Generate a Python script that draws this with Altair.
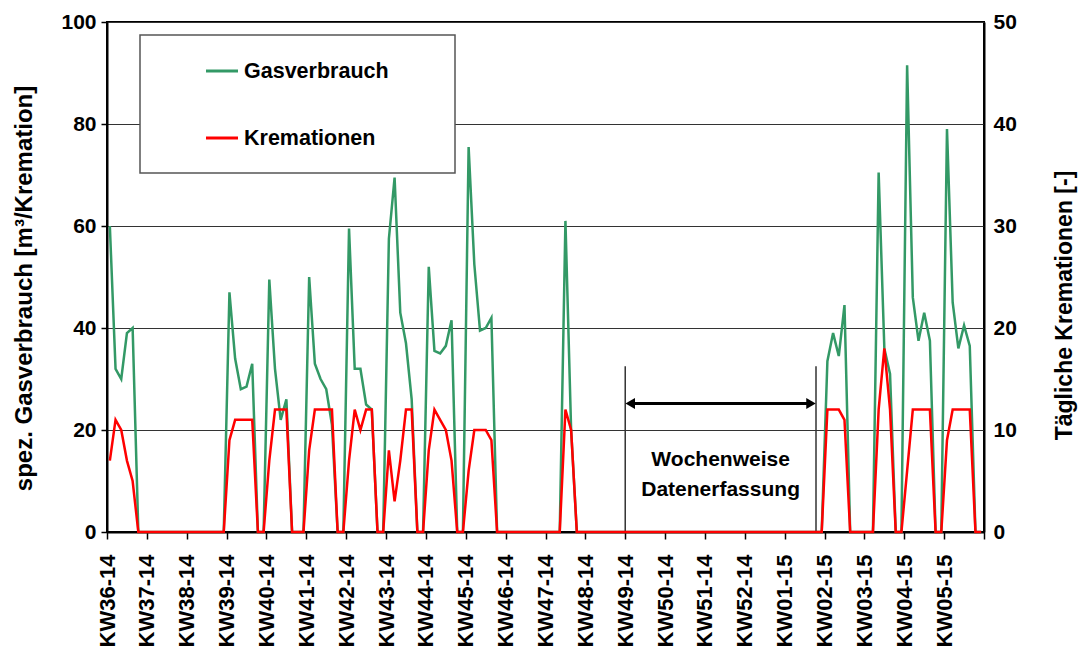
import altair as alt
import numpy as np
import pandas as pd

# ---------------- data ----------------
weeks = ["KW36-14", "KW37-14", "KW38-14", "KW39-14", "KW40-14", "KW41-14",
         "KW42-14", "KW43-14", "KW44-14", "KW45-14", "KW46-14", "KW47-14",
         "KW48-14", "KW49-14", "KW50-14", "KW51-14", "KW52-14", "KW01-15",
         "KW02-15", "KW03-15", "KW04-15", "KW05-15"]

# spez. Gasverbrauch [m3/Kremation], one value per day, week by week
gas_kw36 = [60, 32, 30, 39, 40, 0, 0]
gas_kw37 = [0, 0, 0, 0, 0, 0, 0]
gas_kw38 = [0, 0, 0, 0, 0, 0, 0]
gas_kw39 = [47, 34, 28, 28.5, 33, 0, 0]
gas_kw40 = [49.5, 32, 22, 26, 0, 0, 0]
gas_kw41 = [50, 33, 30, 28, 21, 0, 0]
gas_kw42 = [59.5, 32, 32, 25, 24, 0, 0]
gas_kw43 = [57.5, 69.5, 43, 37, 26, 0, 0]
gas_kw44 = [52, 35.5, 35, 36.5, 41.5, 0, 0]
gas_kw45 = [75.5, 52.5, 39.5, 40, 42, 0, 0]
gas_kw46 = [0, 0, 0, 0, 0, 0, 0]
gas_kw47 = [0, 0, 0, 61, 20, 0, 0]
gas_kw48 = [0, 0, 0, 0, 0, 0, 0]
gas_kw49 = [0, 0, 0, 0, 0, 0, 0]
gas_kw50 = [0, 0, 0, 0, 0, 0, 0]
gas_kw51 = [0, 0, 0, 0, 0, 0, 0]
gas_kw52 = [0, 0, 0, 0, 0, 0, 0]
gas_kw01 = [0, 0, 0, 0, 0, 0, 0]
gas_kw02 = [33.5, 39, 34.5, 44.5, 0, 0, 0]
gas_kw03 = [0, 0, 70.5, 36, 31, 0, 0]
gas_kw04 = [91.5, 46, 37.5, 43, 37.5, 0, 0]
gas_kw05 = [79, 45, 36, 40.5, 36.5, 0, 0]

# Tägliche Kremationen [-]
krem_kw36 = [7, 11, 10, 7, 5, 0, 0]
krem_kw37 = [0, 0, 0, 0, 0, 0, 0]
krem_kw38 = [0, 0, 0, 0, 0, 0, 0]
krem_kw39 = [9, 11, 11, 11, 11, 0, 0]
krem_kw40 = [7, 12, 12, 12, 0, 0, 0]
krem_kw41 = [8, 12, 12, 12, 12, 0, 0]
krem_kw42 = [7, 12, 10, 12, 12, 0, 0]
krem_kw43 = [8, 3, 7, 12, 12, 0, 0]
krem_kw44 = [8, 12, 11, 10, 7, 0, 0]
krem_kw45 = [6, 10, 10, 10, 9, 0, 0]
krem_kw46 = [0, 0, 0, 0, 0, 0, 0]
krem_kw47 = [0, 0, 0, 12, 10, 0, 0]
krem_kw48 = [0, 0, 0, 0, 0, 0, 0]
krem_kw49 = [0, 0, 0, 0, 0, 0, 0]
krem_kw50 = [0, 0, 0, 0, 0, 0, 0]
krem_kw51 = [0, 0, 0, 0, 0, 0, 0]
krem_kw52 = [0, 0, 0, 0, 0, 0, 0]
krem_kw01 = [0, 0, 0, 0, 0, 0, 0]
krem_kw02 = [12, 12, 12, 11, 0, 0, 0]
krem_kw03 = [0, 0, 12, 18, 12, 0, 0]
krem_kw04 = [6, 12, 12, 12, 12, 0, 0]
krem_kw05 = [9, 12, 12, 12, 12, 0, 0]

gas_weeks = [gas_kw36, gas_kw37, gas_kw38, gas_kw39, gas_kw40, gas_kw41, gas_kw42,
             gas_kw43, gas_kw44, gas_kw45, gas_kw46, gas_kw47, gas_kw48, gas_kw49,
             gas_kw50, gas_kw51, gas_kw52, gas_kw01, gas_kw02, gas_kw03, gas_kw04,
             gas_kw05]
krem_weeks = [krem_kw36, krem_kw37, krem_kw38, krem_kw39, krem_kw40, krem_kw41,
              krem_kw42, krem_kw43, krem_kw44, krem_kw45, krem_kw46, krem_kw47,
              krem_kw48, krem_kw49, krem_kw50, krem_kw51, krem_kw52, krem_kw01,
              krem_kw02, krem_kw03, krem_kw04, krem_kw05]

gas = [v for w in gas_weeks for v in w]
krem = [v for w in krem_weeks for v in w]
day = np.arange(len(gas)) + 0.5  # each value sits in the middle of its day

df = pd.DataFrame({"day": day, "gas": gas, "krem": krem})

# ---------------- styling ----------------
FONT = "Liberation Sans"
GREEN = "#339966"
RED = "#ff0000"
NDAYS = 7 * len(weeks)

weeks_js = "[" + ",".join("'%s'" % w for w in weeks) + "]"

x_scale = alt.Scale(domain=[0, NDAYS], nice=False, zero=False)
x_axis = alt.Axis(
    values=list(range(0, NDAYS + 1, 7)),
    labelExpr=weeks_js + "[round(datum.value / 7)] || ''",
    labelAngle=270, labelAlign="right", labelBaseline="middle",
    labelFont=FONT, labelFontSize=22, labelFontWeight="bold", labelColor="black",
    labelPadding=15, labelFlush=False, labelOverlap=False, labelBound=False,
    tickSize=7, tickColor="black", tickWidth=1.5,
    domainColor="black", domainWidth=2, grid=False, title=None,
)

yl_scale = alt.Scale(domain=[0, 100], nice=False)
yl_axis = alt.Axis(
    values=[0, 20, 40, 60, 80, 100], grid=True, gridColor="#333333", gridWidth=1,
    labelFont=FONT, labelFontSize=21, labelFontWeight="bold", labelColor="black",
    labelPadding=5, tickSize=6, tickColor="black", tickWidth=1.5,
    domainColor="black", domainWidth=2,
    title="spez. Gasverbrauch [m³/Kremation]", titleFont=FONT, titleFontSize=24,
    titleFontWeight="bold", titleColor="black", titlePadding=24, titleY=266,
)

y_right = alt.Y(
    "krem:Q",
    scale=alt.Scale(domain=[0, 50], nice=False),
    axis=alt.Axis(
        orient="right", values=[0, 10, 20, 30, 40, 50], grid=False, ticks=False,
        labelFont=FONT, labelFontSize=21, labelFontWeight="bold", labelColor="black",
        labelPadding=9, domainColor="black", domainWidth=2,
        title="Tägliche Kremationen [-]", titleFont=FONT, titleFontSize=23,
        titleFontWeight="bold", titleColor="black", titleAngle=270,
        titleBaseline="top", titlePadding=37, titleY=283,
    ),
)


def xd(v):
    return alt.X(datum=v, type="quantitative", scale=x_scale, axis=x_axis)


def yd(v):
    return alt.Y(datum=v, type="quantitative", scale=yl_scale, axis=yl_axis)


def y2d(v):
    return alt.Y2(datum=v)


green = alt.Chart(df).mark_line(color=GREEN, strokeWidth=2.5).encode(
    x=alt.X("day:Q", scale=x_scale, axis=x_axis),
    y=alt.Y("gas:Q", scale=yl_scale, axis=yl_axis))
red = alt.Chart(df).mark_line(color=RED, strokeWidth=2.5).encode(
    x=alt.X("day:Q", scale=x_scale, axis=x_axis), y=y_right)

one = alt.Data(values=[{}])

# annotation "Wochenweise Datenerfassung"
ann_x0, ann_x1, ann_top, ann_arrow = 91, 124.5, 32.5, 25.2
ann_mid = (ann_x0 + ann_x1) / 2
vline0 = alt.Chart(one).mark_rule(color="#333333", strokeWidth=1.5).encode(
    x=xd(ann_x0), y=yd(0), y2=y2d(ann_top))
vline1 = alt.Chart(one).mark_rule(color="#333333", strokeWidth=1.5).encode(
    x=xd(ann_x1), y=yd(0), y2=y2d(ann_top))
arrow = alt.Chart(one).mark_rule(color="black", strokeWidth=3).encode(
    x=xd(ann_x0 + 1), x2=alt.X2(datum=ann_x1 - 1), y=yd(ann_arrow))
head_l = alt.Chart(one).mark_point(shape="triangle-left", filled=True, size=120,
                                   color="black", opacity=1, xOffset=5).encode(
    x=xd(ann_x0), y=yd(ann_arrow))
head_r = alt.Chart(one).mark_point(shape="triangle-right", filled=True, size=120,
                                   color="black", opacity=1, xOffset=-5).encode(
    x=xd(ann_x1), y=yd(ann_arrow))
txt1 = alt.Chart(one).mark_text(text="Wochenweise", font=FONT, fontSize=21,
                                fontWeight="bold", color="black", baseline="middle").encode(
    x=xd(ann_mid), y=yd(14.1))
txt2 = alt.Chart(one).mark_text(text="Datenerfassung", font=FONT, fontSize=21,
                                fontWeight="bold", color="black", baseline="middle").encode(
    x=xd(ann_mid), y=yd(8.2))

# legend box
leg_box = alt.Chart(one).mark_rect(fill="white", stroke="#555555", strokeWidth=1.5).encode(
    x=alt.value(33), x2=alt.value(348), y=alt.value(13), y2=alt.value(151))
leg_l1 = alt.Chart(one).mark_rule(color=GREEN, strokeWidth=3).encode(
    x=alt.value(99), x2=alt.value(131), y=alt.value(49))
leg_l2 = alt.Chart(one).mark_rule(color=RED, strokeWidth=3).encode(
    x=alt.value(99), x2=alt.value(131), y=alt.value(116))
leg_t1 = alt.Chart(one).mark_text(text="Gasverbrauch", font=FONT, fontSize=21.5,
                                  fontWeight="bold", color="black", align="left",
                                  baseline="middle").encode(x=alt.value(137), y=alt.value(50))
leg_t2 = alt.Chart(one).mark_text(text="Kremationen", font=FONT, fontSize=21.5,
                                  fontWeight="bold", color="black", align="left",
                                  baseline="middle").encode(x=alt.value(137), y=alt.value(117))

left = alt.layer(green, vline0, vline1, arrow, head_l, head_r, txt1, txt2,
                 leg_box, leg_l1, leg_l2, leg_t1, leg_t2)

chart = (
    alt.layer(left, red)
    .resolve_scale(y="independent")
    .properties(
        width=877, height=510,
        autosize=alt.AutoSizeParams(type="none"),
        padding={"left": 99, "top": 14, "right": 96, "bottom": 114},
        background="white",
    )
    .configure_view(stroke="black", strokeWidth=2)
    .configure_axisX(labelOverlap=False, labelFlush=False)
)

chart.save("out.html", embed_options={"renderer": "svg", "actions": False})
